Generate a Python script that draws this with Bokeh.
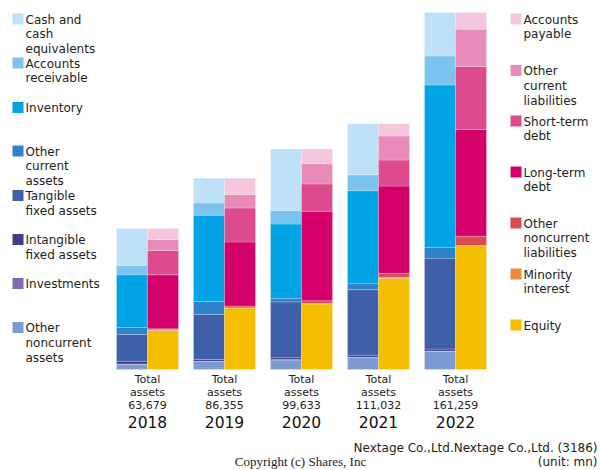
from bokeh.plotting import figure
from bokeh.models import Range1d, ColumnDataSource
from bokeh.core.properties import value
from bokeh.embed import file_html
from bokeh.resources import INLINE

# ---------------- data (million yen) ----------------
years = ["2018", "2019", "2020", "2021", "2022"]
total_assets = [63679, 86355, 99633, 111032, 161259]

# assets (bottom -> top)
other_nca = [2390, 3610, 4290, 5420, 8130]
investments = [150, 130, 230, 140, 200]
intangible = [1220, 770, 810, 900, 900]
tangible = [12060, 20330, 25200, 29590, 40970]
other_ca = [3160, 5870, 1580, 2710, 4970]
inventory = [23760, 38980, 33560, 42010, 73300]
receivable = [4250, 5560, 6190, 7230, 13100]
cash = [16700, 11100, 27770, 23040, 19700]

# liabilities & equity (bottom -> top)
equity = [17620, 27750, 29610, 41160, 55920]
minority = [300, 150, 270, 590, 100]
other_ncl = [450, 770, 1220, 1670, 4200]
lt_debt = [24390, 28910, 40340, 39430, 48190]
st_debt = [10980, 15360, 12380, 11740, 28460]
other_cl = [4970, 6050, 9170, 10840, 16850]
payable = [4970, 7360, 6640, 5600, 7540]

asset_keys = ["other_nca", "investments", "intangible", "tangible", "other_ca",
              "inventory", "receivable", "cash"]
asset_vals = [other_nca, investments, intangible, tangible, other_ca,
              inventory, receivable, cash]
asset_colors = ["#7D9BD3", "#7E6CB0", "#433A8C", "#3F5FA8", "#2E82CC",
                "#00A3E3", "#7AC4EF", "#BEE1F7"]
liab_keys = ["equity", "minority", "other_ncl", "lt_debt", "st_debt",
             "other_cl", "payable"]
liab_vals = [equity, minority, other_ncl, lt_debt, st_debt, other_cl, payable]
liab_colors = ["#F5BE00", "#EB8A3C", "#DC4B52", "#D4006A", "#DD4A8D",
               "#E98BB8", "#F4C7DD"]

left_legend = [("Cash and", "cash", "equivalents"), ("Accounts", "receivable"),
               ("Inventory",), ("Other", "current", "assets"),
               ("Tangible", "fixed assets"), ("Intangible", "fixed assets"),
               ("Investments",), ("Other", "noncurrent", "assets")]
left_legend_colors = list(reversed(asset_colors))
right_legend = [("Accounts", "payable"), ("Other", "current", "liabilities"),
                ("Short-term", "debt"), ("Long-term", "debt"),
                ("Other", "noncurrent", "liabilities"), ("Minority", "interest"),
                ("Equity",)]
right_legend_colors = list(reversed(liab_colors))

company = "Nextage Co.,Ltd.Nextage Co.,Ltd. (3186)"
unit = "(unit: mn)"
copyright_text = "Copyright (c) Shares, Inc"

# ---------------- layout helpers (picture pixel -> data) ----------------
W, H = 600, 470
X0, DX = 147.0, 77.0       # x of first group centre, group spacing
Y0, K = 369.0, 451.7       # y of zero, value per pixel


def xd(px):
    return (px - X0) / DX


def yd(py):
    return (Y0 - py) * K


p = figure(width=W, height=H, output_backend="svg", toolbar_location=None,
           x_range=Range1d(xd(0), xd(W)),
           y_range=Range1d(yd(H), yd(0)),
           x_axis_location=None, y_axis_location=None, min_border=0)
p.grid.visible = False
p.outline_line_color = None
p.background_fill_color = "white"
p.border_fill_color = "white"

half = 15.5 / DX
colw = 31.0 / DX
xs = list(range(len(years)))

src = {"xa": [x - half for x in xs], "xl": [x + half for x in xs]}
for k, v in zip(asset_keys, asset_vals):
    src[k] = v
for k, v in zip(liab_keys, liab_vals):
    src[k] = v
source = ColumnDataSource(src)

p.vbar_stack(asset_keys, x="xa", width=colw, color=asset_colors,
             line_color="white", line_alpha=0.35, line_width=0.6, source=source)
p.vbar_stack(liab_keys, x="xl", width=colw, color=liab_colors,
             line_color="white", line_alpha=0.35, line_width=0.6, source=source)

# labels below bars
lab_x, lab_y, lab_t = [], [], []
for i, t in enumerate(total_assets):
    for line, py in zip(["Total", "assets", f"{t:,}"], [378.5, 391.5, 404.5]):
        lab_x.append(xs[i]); lab_y.append(yd(py)); lab_t.append(line)
p.text(x=lab_x, y=lab_y, text=lab_t, text_align="center", text_baseline="middle",
       text_font=value("DejaVu Sans"), text_font_size=value("11px"),
       text_color="#222222")
p.text(x=xs, y=[yd(421)] * len(xs), text=years, text_align="center",
       text_baseline="middle", text_font=value("DejaVu Sans"),
       text_font_size=value("15.5px"), text_color="#111111")


# legends
def draw_legend(items, colors, sq_x, txt_x, tops):
    rx, ry, rc, tx, ty, tt = [], [], [], [], [], []
    for lines, c, top in zip(items, colors, tops):
        rx.append(xd(sq_x + 5.5)); ry.append(yd(top + 5.5)); rc.append(c)
        for j, line in enumerate(lines):
            tx.append(xd(txt_x)); ty.append(yd(top + 6.3 + 14.6 * j)); tt.append(line)
    p.rect(x=rx, y=ry, width=11, height=11, width_units="screen",
           height_units="screen", color=rc, line_color=None)
    p.text(x=tx, y=ty, text=tt, text_align="left", text_baseline="middle",
           text_font=value("DejaVu Sans"), text_font_size=value("12px"),
           text_color="#222222")


draw_legend(left_legend, left_legend_colors, 12, 25,
            [13, 57, 101.5, 145, 189.5, 233.5, 277.5, 321.5])
draw_legend(right_legend, right_legend_colors, 510, 523,
            [13, 64.5, 115, 166, 217, 268, 319])

# footer
p.text(x=[xd(597)], y=[yd(447)], text=[company], text_align="right",
       text_baseline="middle", text_font=value("DejaVu Sans"),
       text_font_size=value("12px"), text_color="#222222")
p.text(x=[xd(597)], y=[yd(461)], text=[unit], text_align="right",
       text_baseline="middle", text_font=value("DejaVu Sans"),
       text_font_size=value("12px"), text_color="#222222")
p.text(x=[xd(300)], y=[yd(461)], text=[copyright_text], text_align="center",
       text_baseline="middle", text_font=value("Liberation Serif"),
       text_font_size=value("13px"), text_color="#222222")

open("out.html", "w").write(file_html(p, INLINE))
